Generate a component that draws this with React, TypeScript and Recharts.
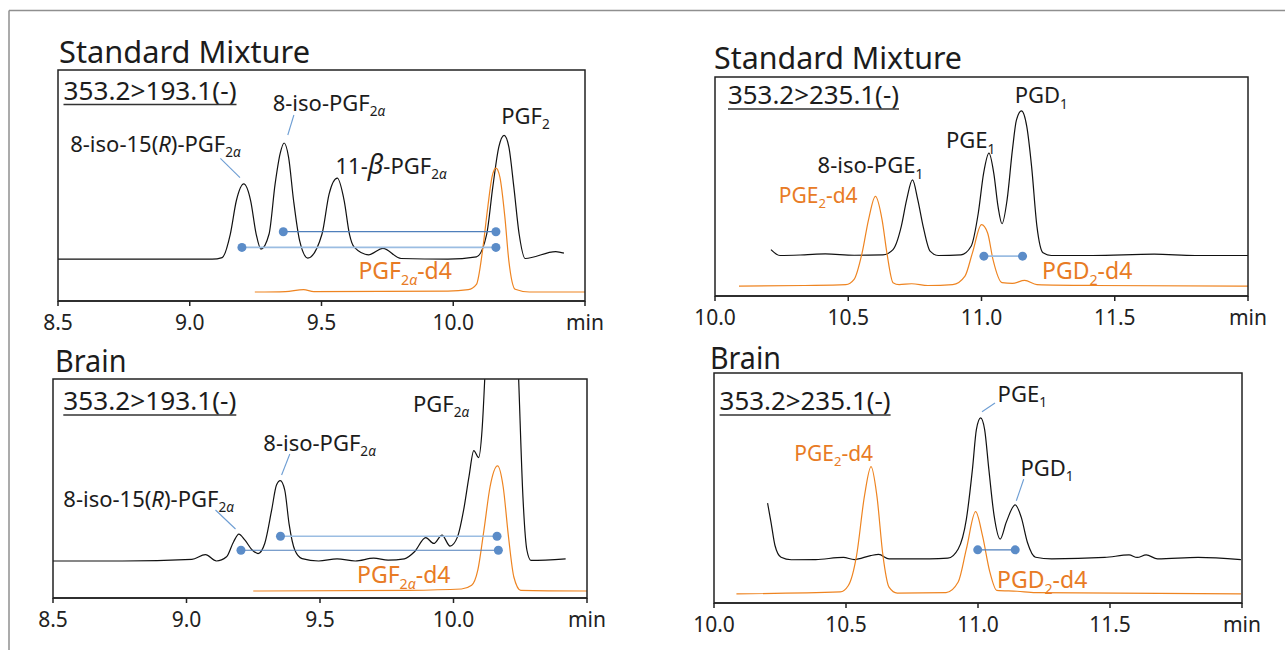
import React from 'react';
import { ComposedChart, Line, XAxis, YAxis } from 'recharts';

const FONT = '"Noto Sans", "Open Sans", sans-serif';
const INK = '#1c1c1c';
const ORANGE = '#ee8421';
const ORANGE_TXT = '#e87b25';
const DOT = '#5b8cc8';
const BLUE_DARK = '#4f7fbb';
const BLUE_LIGHT = '#9bbde2';
const LEADER = '#6d9dd3';

// ---- data: [retention time (min), relative intensity (% of panel height)] ----
const tlBlack = [[8.5,18.1],[9.085,18.1],[9.123,18.8],[9.154,29.0],[9.177,43.5],[9.205,50.7],[9.231,43.5],[9.252,29.0],[9.27,22.5],[9.301,29.0],[9.324,50.7],[9.343,63.8],[9.358,68.4],[9.375,62.3],[9.394,43.5],[9.417,26.1],[9.448,18.6],[9.502,29.0],[9.529,46.4],[9.56,53.2],[9.586,43.5],[9.606,29.0],[9.625,23.2],[9.679,20.0],[9.733,22.8],[9.802,18.4],[9.98,18.1],[10.088,19.1],[10.127,29.0],[10.15,49.3],[10.173,66.7],[10.193,71.7],[10.211,66.7],[10.23,49.3],[10.25,29.0],[10.273,18.4],[10.389,21.4],[10.42,20.7]];
const tlOrange = [[9.247,3.9],[9.363,4.1],[9.432,4.9],[9.471,4.1],[9.98,4.3],[10.057,4.9],[10.088,7.2],[10.111,21.7],[10.131,40.6],[10.147,53.6],[10.162,57.5],[10.177,53.6],[10.196,36.2],[10.211,17.4],[10.235,5.1],[10.289,3.9],[10.5,3.9]];
const tlBlueUpper = [[9.355,30.0],[10.162,30.0]];
const tlBlueLower = [[9.198,23.2],[10.162,23.2]];

const trBlack = [[10.21,21.2],[10.244,18.5],[10.336,18.8],[10.414,19.2],[10.522,18.6],[10.63,18.8],[10.668,21.2],[10.699,31.8],[10.719,43.9],[10.741,53.0],[10.761,43.9],[10.781,31.8],[10.807,20.5],[10.838,18.5],[10.923,18.8],[10.961,22.7],[10.988,37.9],[11.008,56.1],[11.028,65.2],[11.046,56.1],[11.062,40.9],[11.077,33.0],[11.096,43.9],[11.116,66.7],[11.131,80.3],[11.15,84.5],[11.17,77.3],[11.188,59.1],[11.208,31.8],[11.231,19.7],[11.262,18.5],[11.417,18.5],[11.648,19.1],[11.802,18.5],[12.0,18.5]];
const trOrange = [[10.09,4.5],[10.336,4.8],[10.491,5.2],[10.522,7.6],[10.552,19.7],[10.576,34.8],[10.602,45.5],[10.627,34.8],[10.645,19.7],[10.668,6.1],[10.691,5.2],[10.738,5.6],[10.799,4.8],[10.892,5.2],[10.938,9.1],[10.966,19.7],[11.0,32.6],[11.023,28.8],[11.043,16.7],[11.077,6.1],[11.116,5.8],[11.162,7.1],[11.208,5.2],[11.417,4.8],[12.0,4.5]];
const trBlue = [[11.009,18.2],[11.154,18.2]];

const blBlack = [[8.5,16.9],[8.76,16.9],[9.02,17.6],[9.071,19.8],[9.112,16.9],[9.15,18.8],[9.176,25.6],[9.196,29.2],[9.219,26.4],[9.247,21.8],[9.268,20.3],[9.293,24.9],[9.319,40.2],[9.337,51.6],[9.351,53.6],[9.368,49.3],[9.384,34.0],[9.406,21.8],[9.433,18.0],[9.495,16.9],[9.564,17.9],[9.632,16.9],[9.701,18.2],[9.755,17.3],[9.816,17.9],[9.854,21.1],[9.896,27.6],[9.926,24.9],[9.957,28.7],[9.987,23.7],[10.015,27.9],[10.038,40.2],[10.058,55.4],[10.076,67.3],[10.094,64.1],[10.107,76.8],[10.117,100],[10.14,180],[10.18,230],[10.22,180],[10.244,100],[10.26,46.3],[10.275,21.8],[10.29,17.2],[10.42,17.9]];
const blOrange = [[9.25,3.2],[9.831,3.5],[10.03,4.1],[10.068,5.8],[10.091,12.7],[10.114,31.0],[10.137,50.8],[10.165,60.3],[10.186,50.8],[10.206,27.9],[10.226,9.6],[10.252,3.5],[10.5,3.2]];
const blBlueUpper = [[9.352,28.2],[10.163,28.2]];
const blBlueLower = [[9.204,21.8],[10.168,21.8]];

const brBlack = [[10.203,43.4],[10.216,35.1],[10.231,25.0],[10.254,19.9],[10.293,18.8],[10.385,18.9],[10.49,19.8],[10.532,18.9],[10.593,20.6],[10.624,21.1],[10.663,19.2],[10.817,19.2],[10.886,19.5],[10.925,23.5],[10.956,36.5],[10.979,58.2],[10.994,75.5],[11.01,80.5],[11.025,75.5],[11.041,58.2],[11.061,38.0],[11.084,27.8],[11.107,35.1],[11.141,42.7],[11.164,37.2],[11.187,26.4],[11.218,19.9],[11.279,19.2],[11.48,19.8],[11.572,20.9],[11.603,19.8],[11.637,20.9],[11.68,19.2],[11.834,19.8],[11.996,18.9]];
const brOrange = [[10.085,4.0],[10.478,4.8],[10.509,7.6],[10.54,20.6],[10.57,46.6],[10.595,59.3],[10.617,46.6],[10.64,20.6],[10.663,6.9],[10.694,4.3],[10.879,4.5],[10.925,9.1],[10.956,23.5],[10.991,39.7],[11.017,29.3],[11.045,13.4],[11.071,5.5],[11.148,5.1],[11.218,4.5],[11.996,4.0]];
const brBlue = [[10.999,23.1],[11.141,23.1]];

const ticksLeft = [8.5, 9.0, 9.5, 10.0, 10.5];
const ticksRight = [10.0, 10.5, 11.0, 11.5, 12.0];

const toPts = (a: number[][]) => a.map(([t, v]) => ({ t, v }));

type Series = { data: number[][]; color: string; width: number; kind: 'trace' | 'marker' };

function Panel({ L, R, T, B, ticks, series }: { L: number; R: number; T: number; B: number; ticks: number[]; series: Series[] }) {
  const padX = 30, padT = 10, axisH = 40;
  const w = R - L + 2 * padX;
  const h = B - T + padT + axisH;
  const last = ticks[ticks.length - 1];
  return (
    <div style={{ position: 'absolute', left: L - padX, top: T - padT, width: w, height: h }}>
      <ComposedChart width={w} height={h} margin={{ top: padT, right: padX, bottom: 0, left: padX }}>
        <XAxis
          type="number"
          dataKey="t"
          domain={[ticks[0], last]}
          ticks={ticks}
          interval={0}
          allowDataOverflow
          height={axisH}
          tickSize={5}
          tickMargin={9}
          axisLine={{ stroke: '#222', strokeWidth: 1.5 }}
          tickLine={{ stroke: '#222', strokeWidth: 1.5 }}
          tick={{ fill: '#222', fontSize: 21, fontFamily: FONT }}
          tickFormatter={(v: number) => (v === last ? 'min' : v.toFixed(1))}
        />
        <YAxis hide type="number" domain={[0, 100]} allowDataOverflow />
        {series.map((s, i) => (
          <Line
            key={i}
            data={toPts(s.data)}
            dataKey="v"
            type={s.kind === 'trace' ? 'monotone' : 'linear'}
            stroke={s.color}
            strokeWidth={s.width}
            dot={s.kind === 'marker' ? { r: 4.5, fill: DOT, stroke: DOT, strokeWidth: 0 } : false}
            activeDot={false}
            isAnimationActive={false}
          />
        ))}
      </ComposedChart>
    </div>
  );
}

type Seg = { s: string; sub?: boolean; it?: boolean; fs?: number };

function Rich({ x, y, segs, fs = 22, fill = INK }: { x: number; y: number; segs: Seg[]; fs?: number; fill?: string }) {
  let cur = 0;
  return (
    <text x={x} y={y} fontSize={fs} fill={fill} fontFamily={FONT}>
      {segs.map((g, i) => {
        const off = g.sub ? fs * 0.24 : 0;
        const dy = off - cur;
        cur = off;
        return (
          <tspan key={i} dy={dy} fontSize={g.fs ?? (g.sub ? fs * 0.62 : fs)} fontStyle={g.it ? 'italic' : undefined}>
            {g.s}
          </tspan>
        );
      })}
    </text>
  );
}

function Plain({ x, y, s, fs, len }: { x: number; y: number; s: string; fs: number; len: number }) {
  return (
    <text x={x} y={y} fontSize={fs} fill={INK} fontFamily={FONT} textLength={len} lengthAdjust="spacingAndGlyphs">
      {s}
    </text>
  );
}

function Channel({ x, y, s, len }: { x: number; y: number; s: string; len: number }) {
  return (
    <g>
      <Plain x={x} y={y} s={s} fs={24.5} len={len} />
      <line x1={x} x2={x + len} y1={y + 5} y2={y + 5} stroke="#333" strokeWidth={1.3} />
    </g>
  );
}

function Leader({ x1, y1, x2, y2 }: { x1: number; y1: number; x2: number; y2: number }) {
  return <line x1={x1} y1={y1} x2={x2} y2={y2} stroke={LEADER} strokeWidth={1.1} />;
}

const PGF2a: Seg[] = [{ s: 'PGF' }, { s: '2', sub: true }, { s: 'α', sub: true, it: true }];

export default function App() {
  const boxes = [
    { L: 58, R: 585, T: 70, B: 301 },
    { L: 715, R: 1248, T: 77, B: 296 },
    { L: 53, R: 587, T: 379, B: 598 },
    { L: 714, R: 1242, T: 373, B: 603 },
  ];
  return (
    <div style={{ position: 'absolute', left: 0, top: 0, width: 1285, height: 650, overflow: 'hidden', background: '#fff' }}>
      <Panel {...boxes[0]} ticks={ticksLeft} series={[
        { data: tlBlack, color: '#111', width: 1.2, kind: 'trace' },
        { data: tlOrange, color: ORANGE, width: 1.2, kind: 'trace' },
        { data: tlBlueUpper, color: BLUE_DARK, width: 1.2, kind: 'marker' },
        { data: tlBlueLower, color: BLUE_LIGHT, width: 1.6, kind: 'marker' },
      ]} />
      <Panel {...boxes[1]} ticks={ticksRight} series={[
        { data: trBlack, color: '#111', width: 1.2, kind: 'trace' },
        { data: trOrange, color: ORANGE, width: 1.2, kind: 'trace' },
        { data: trBlue, color: BLUE_LIGHT, width: 1.6, kind: 'marker' },
      ]} />
      <Panel {...boxes[2]} ticks={ticksLeft} series={[
        { data: blBlack, color: '#111', width: 1.2, kind: 'trace' },
        { data: blOrange, color: ORANGE, width: 1.2, kind: 'trace' },
        { data: blBlueUpper, color: BLUE_LIGHT, width: 1.6, kind: 'marker' },
        { data: blBlueLower, color: BLUE_DARK, width: 1.2, kind: 'marker' },
      ]} />
      <Panel {...boxes[3]} ticks={ticksRight} series={[
        { data: brBlack, color: '#111', width: 1.2, kind: 'trace' },
        { data: brOrange, color: ORANGE, width: 1.2, kind: 'trace' },
        { data: brBlue, color: BLUE_DARK, width: 1.3, kind: 'marker' },
      ]} />

      <svg width={1285} height={650} style={{ position: 'absolute', left: 0, top: 0, pointerEvents: 'none' }}>
        <line x1={9} y1={10.5} x2={1285} y2={10.5} stroke="#8f8f8f" strokeWidth={1.5} />
        <line x1={9} y1={10.5} x2={9} y2={650} stroke="#8f8f8f" strokeWidth={1.5} />
        {boxes.map((b, i) => (
          <rect key={i} x={b.L} y={b.T} width={b.R - b.L} height={b.B - b.T} fill="none" stroke="#222" strokeWidth={1.5} />
        ))}

        {/* Top-left */}
        <Plain x={59} y={63} s="Standard Mixture" fs={30} len={251} />
        <Channel x={63.5} y={99.5} s="353.2>193.1(-)" len={173} />
        <Rich x={272.7} y={110.7} segs={[{ s: '8-iso-' }, ...PGF2a]} />
        <Leader x1={293.9} y1={115} x2={287.8} y2={135} />
        <Rich x={70.2} y={151.7} segs={[{ s: '8-iso-15(' }, { s: 'R', it: true }, { s: ')-' }, ...PGF2a]} />
        <Leader x1={220.4} y1={158.3} x2={240} y2={177.7} />
        <Rich x={335.5} y={174} segs={[{ s: '11-' }, { s: 'β', it: true, fs: 27 }, { s: '-' }, ...PGF2a]} />
        <Rich x={501.2} y={124} segs={[{ s: 'PGF' }, { s: '2', sub: true }]} />
        <Rich x={358.4} y={279.3} fs={23} fill={ORANGE_TXT} segs={[...PGF2a, { s: '-d4' }]} />

        {/* Top-right */}
        <Plain x={714} y={69} s="Standard Mixture" fs={30} len={248} />
        <Channel x={728} y={104} s="353.2>235.1(-)" len={171} />
        <Rich x={1014.7} y={103.3} segs={[{ s: 'PGD' }, { s: '1', sub: true }]} />
        <Rich x={946} y={148.3} segs={[{ s: 'PGE' }, { s: '1', sub: true }]} />
        <Rich x={817.6} y={173.3} segs={[{ s: '8-iso-PGE' }, { s: '1', sub: true }]} />
        <Rich x={778.8} y={203.3} fs={21} fill={ORANGE_TXT} segs={[{ s: 'PGE' }, { s: '2', sub: true }, { s: '-d4' }]} />
        <Rich x={1042} y={279.3} fs={23} fill={ORANGE_TXT} segs={[{ s: 'PGD' }, { s: '2', sub: true }, { s: '-d4' }]} />

        {/* Bottom-left */}
        <Plain x={55} y={371.7} s="Brain" fs={30} len={71.5} />
        <Channel x={63.3} y={410} s="353.2>193.1(-)" len={173} />
        <Rich x={413} y={411.7} segs={PGF2a} />
        <Rich x={263.3} y={450.7} segs={[{ s: '8-iso-' }, ...PGF2a]} />
        <Leader x1={289.8} y1={454} x2={281.6} y2={475} />
        <Rich x={63.3} y={506.7} segs={[{ s: '8-iso-15(' }, { s: 'R', it: true }, { s: ')-' }, ...PGF2a]} />
        <Leader x1={215.5} y1={510} x2={235.5} y2={529} />
        <Rich x={357} y={583.3} fs={23} fill={ORANGE_TXT} segs={[...PGF2a, { s: '-d4' }]} />

        {/* Bottom-right */}
        <Plain x={710} y={369.3} s="Brain" fs={30} len={71} />
        <Channel x={719.6} y={410} s="353.2>235.1(-)" len={171} />
        <Rich x={997.6} y={401.7} segs={[{ s: 'PGE' }, { s: '1', sub: true }]} />
        <Leader x1={995} y1={403} x2={982} y2={411.7} />
        <Rich x={1020.4} y={476} segs={[{ s: 'PGD' }, { s: '1', sub: true }]} />
        <Leader x1={1023.7} y1={479.3} x2={1016.3} y2={500.7} />
        <Rich x={794.3} y={460.7} fs={21} fill={ORANGE_TXT} segs={[{ s: 'PGE' }, { s: '2', sub: true }, { s: '-d4' }]} />
        <Rich x={997} y={588.3} fs={23} fill={ORANGE_TXT} segs={[{ s: 'PGD' }, { s: '2', sub: true }, { s: '-d4' }]} />
      </svg>
    </div>
  );
}
